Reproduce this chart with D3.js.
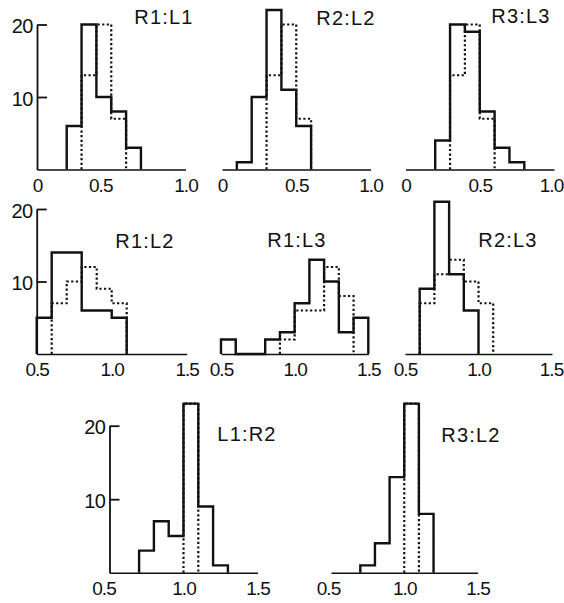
<!DOCTYPE html>
<html>
<head>
<meta charset="utf-8">
<script src="https://cdn.jsdelivr.net/npm/d3@7"></script>
<style>
  html, body { margin: 0; padding: 0; background: #fff; }
  svg { display: block; }
  text { font-family: "Liberation Sans", Arial, sans-serif; fill: #111; }
</style>
</head>
<body>
<svg id="chart" width="564" height="603"></svg>
<script>
// ---------- data ----------
const titles = ["R1:L1", "R2:L2", "R3:L3", "R1:L2", "R1:L3", "R2:L3", "L1:R2", "R3:L2"];
const binsTop = [0.0, 0.1, 0.2, 0.3, 0.4, 0.5, 0.6, 0.7, 0.8, 0.9, 1.0];
const binsLower = [0.5, 0.6, 0.7, 0.8, 0.9, 1.0, 1.1, 1.2, 1.3, 1.4, 1.5];
const xTicksTop = [0, 0.5, 1.0];
const xTicksLower = [0.5, 1.0, 1.5];
const yTicks = [10, 20];

// observed (solid) and expected (dotted) counts per bin
const solidR1L1 = [0, 0, 6, 20, 10, 8, 3, 0, 0, 0];
const dottedR1L1 = [0, 0, 0, 13, 20, 7, 0, 0, 0, 0];
const solidR2L2 = [0, 1, 10, 22, 11, 6, 0, 0, 0, 0];
const dottedR2L2 = [0, 0, 0, 13, 20, 7, 0, 0, 0, 0];
const solidR3L3 = [0, 0, 4, 20, 19, 8, 3, 1, 0, 0];
const dottedR3L3 = [0, 0, 0, 13, 20, 7, 0, 0, 0, 0];
const solidR1L2 = [5, 14, 14, 6, 6, 5, 0, 0, 0, 0];
const dottedR1L2 = [0, 7, 10, 12, 9, 7, 0, 0, 0, 0];
const solidR1L3 = [2, 0, 0, 2, 3, 7, 13, 10, 3, 5];
const dottedR1L3 = [0, 0, 0, 0, 2, 6, 6, 12, 8, 0];
const solidR2L3 = [0, 9, 21, 11, 6, 0, 0, 0, 0, 0];
const dottedR2L3 = [0, 7, 11, 13, 10, 7, 0, 0, 0, 0];
const solidL1R2 = [0, 0, 3, 7, 5, 23, 9, 1, 0, 0];
const dottedL1R2 = [0, 0, 0, 0, 0, 23, 0, 0, 0, 0];
const solidR3L2 = [0, 0, 1, 4, 13, 23, 8, 0, 0, 0];
const dottedR3L2 = [0, 0, 0, 0, 0, 23, 0, 0, 0, 0];

// ---------- layout ----------
const rows = [
  { base: 169.5, top: 24.5 },
  { base: 354, top: 209 },
  { base: 572.7, top: 425.7 }
];
const panels = [
  { title: titles[0], row: 0, r: [37, 185.5], bins: binsTop, ticks: xTicksTop, solid: solidR1L1, dotted: dottedR1L1, yAxis: true, t: [164, 24], lblShift: { 0.5: -11 } },
  { title: titles[1], row: 0, r: [222, 370.5], bins: binsTop, ticks: xTicksTop, solid: solidR2L2, dotted: dottedR2L2, yAxis: false, t: [346, 25] },
  { title: titles[2], row: 0, r: [405.5, 554], bins: binsTop, ticks: xTicksTop, solid: solidR3L3, dotted: dottedR3L3, yAxis: false, t: [521, 23], lblShift: { 1: -3 } },
  { title: titles[3], row: 1, r: [36.7, 186.7], bins: binsLower, ticks: xTicksLower, solid: solidR1L2, dotted: dottedR1L2, yAxis: true, t: [145, 247.5] },
  { title: titles[4], row: 1, r: [221, 368.3], bins: binsLower, ticks: xTicksLower, solid: solidR1L3, dotted: dottedR1L3, yAxis: false, t: [297, 247] },
  { title: titles[5], row: 1, r: [405, 552], bins: binsLower, ticks: xTicksLower, solid: solidR2L3, dotted: dottedR2L3, yAxis: false, t: [508, 246.5], lblShift: { 1.5: -1 } },
  { title: titles[6], row: 2, r: [109.5, 257.5], bins: binsLower, ticks: xTicksLower, solid: solidL1R2, dotted: dottedL1R2, yAxis: true, t: [247, 441], lblShift: { 0.5: -6 } },
  { title: titles[7], row: 2, r: [331, 477.5], bins: binsLower, ticks: xTicksLower, solid: solidR3L2, dotted: dottedR3L2, yAxis: false, t: [471, 442], lblShift: { 0.5: -3 } }
];

const svg = d3.select("#chart");
svg.append("rect").attr("width", 564).attr("height", 603).attr("fill", "#fff");

function stepPoints(edges, vals) {
  let first = vals.findIndex(v => v > 0);
  let last = vals.length - 1;
  while (last >= 0 && vals[last] === 0) last--;
  if (first < 0) return [];
  const pts = [[edges[first], 0]];
  for (let i = first; i <= last; i++) {
    pts.push([edges[i], vals[i]]);
    pts.push([edges[i + 1], vals[i]]);
  }
  pts.push([edges[last + 1], 0]);
  return pts;
}

const fmt = d => d === 0 ? "0" : d3.format(".1f")(d);

panels.forEach(p => {
  const row = rows[p.row];
  const x = d3.scaleLinear().domain([p.bins[0], p.bins[p.bins.length - 1]]).range(p.r);
  const y = d3.scaleLinear().domain([0, 20]).range([row.base, row.top]);
  const g = svg.append("g");

  // x axis
  const xa = g.append("g")
    .attr("transform", `translate(0,${row.base})`)
    .call(d3.axisBottom(x).tickValues(p.ticks).tickFormat(fmt).tickSizeInner(0).tickSizeOuter(0).tickPadding(9));
  xa.select(".domain").attr("stroke", "#111").attr("stroke-width", 1.6);
  xa.selectAll("text").attr("font-size", 19).attr("letter-spacing", -1)
    .attr("font-family", '"Liberation Sans", Arial, sans-serif').attr("fill", "#111")
    .attr("dx", d => (p.lblShift && p.lblShift[d]) ? p.lblShift[d] : 0);

  // y axis
  if (p.yAxis) {
    const ya = g.append("g")
      .attr("transform", `translate(${p.r[0]},0)`)
      .call(d3.axisLeft(y).tickValues(yTicks).tickFormat(d3.format("d")).tickSizeInner(-10).tickSizeOuter(0).tickPadding(4));
    ya.select(".domain").attr("stroke", "#111").attr("stroke-width", 1.8);
    ya.selectAll(".tick line").attr("stroke", "#111").attr("stroke-width", 1.8);
    ya.selectAll("text").attr("font-size", 20).attr("letter-spacing", -0.5)
      .attr("font-family", '"Liberation Sans", Arial, sans-serif').attr("fill", "#111")
      .attr("dy", "0.4em");
  }

  const line = d3.line().x(d => x(d[0])).y(d => y(d[1]));

  g.append("path")
    .attr("d", line(stepPoints(p.bins, p.dotted)))
    .attr("fill", "none").attr("stroke", "#111").attr("stroke-width", 2.2)
    .attr("stroke-dasharray", "2.2,2.4");

  g.append("path")
    .attr("d", line(stepPoints(p.bins, p.solid)))
    .attr("fill", "none").attr("stroke", "#111").attr("stroke-width", 2.4)
    .attr("stroke-linejoin", "miter");

  g.append("text")
    .attr("x", p.t[0]).attr("y", p.t[1])
    .attr("text-anchor", "middle")
    .attr("font-size", 20).attr("letter-spacing", 1.2)
    .text(p.title);
});
</script>
</body>
</html>
